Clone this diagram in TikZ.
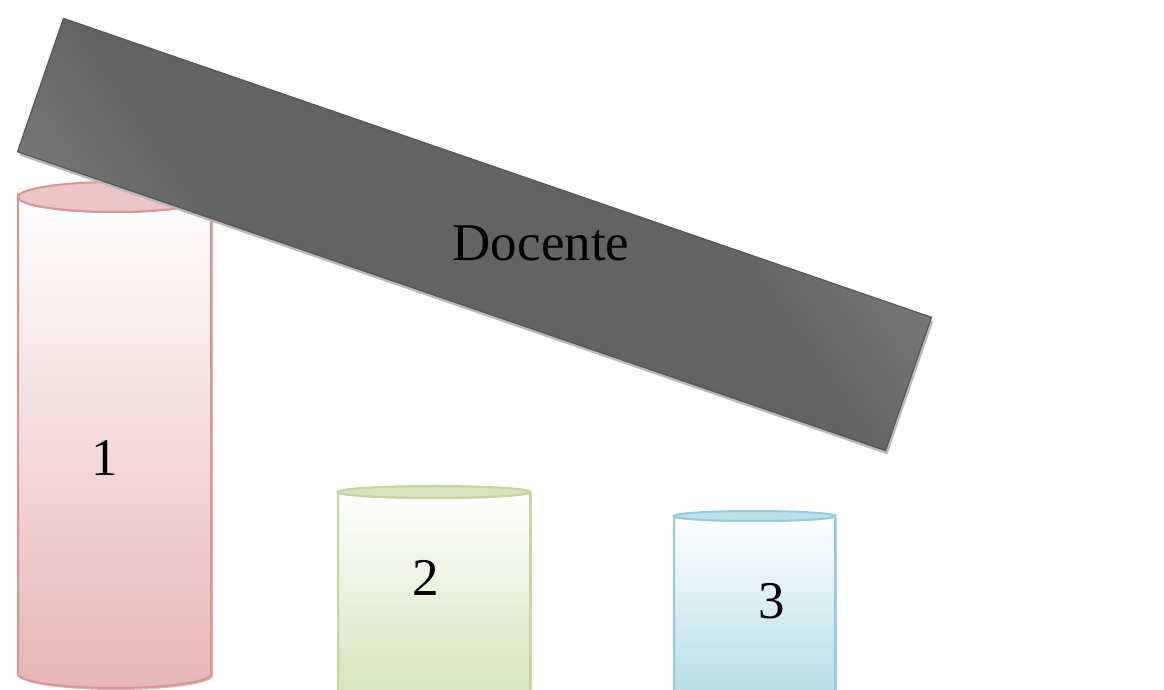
\documentclass[tikz,border=0pt]{standalone}
\usepackage{fontspec}
\setmainfont{Liberation Serif}
\usetikzlibrary{shadings}
\definecolor{pinkS}{HTML}{D99694}
\definecolor{pinkB}{HTML}{E6B7B6}
\definecolor{pinkT}{HTML}{ECC5C5}
\definecolor{greenS}{HTML}{C3D69B}
\definecolor{greenB}{HTML}{D7E4BD}
\definecolor{greenT}{HTML}{D8E4BF}
\definecolor{blueS}{HTML}{93CDDD}
\definecolor{blueB}{HTML}{B7DEE8}
\definecolor{blueT}{HTML}{BEE0EA}
\definecolor{barD}{HTML}{636363}
\definecolor{barL}{HTML}{7C7C7C}
\definecolor{barE}{HTML}{575757}
\pgfdeclarehorizontalshading{barsh}{100bp}{color(0bp)=(barL); color(25bp)=(barL); color(36bp)=(barD); color(64bp)=(barD); color(75bp)=(barL); color(100bp)=(barL)}
\tikzset{
  lbl/.style={font=\fontsize{53}{60}\selectfont, text=black, inner sep=0pt},
  cylline/.style={line width=2pt},
}
\newcommand{\mycyl}[9]{%
 \fill[#7!80!black, opacity=0.5] ({#1-#2+2},{#3-2}) -- ({#1-#2+2},{#5-2}) arc[start angle=180,end angle=360,x radius=#2,y radius=#6] -- ({#1+#2+2},{#3-2}) -- cycle;
 \shade[top color=white, bottom color=#8, draw=#7, cylline]
   ({#1-#2},#3) -- ({#1-#2},#5) arc[start angle=180,end angle=360,x radius=#2,y radius=#6]
   -- ({#1+#2},#3) arc[start angle=0,end angle=-180,x radius=#2,y radius=#4] -- cycle;
 \filldraw[fill=#9, draw=#7, cylline] (#1,#3) ellipse[x radius=#2, y radius=#4];
}
\begin{document}
\begin{tikzpicture}[x=1pt,y=1pt]
\useasboundingbox (0,0) rectangle (1164,690);
\begin{scope}
\clip (0,0) rectangle (1164,690);
\mycyl{114.5}{96.5}{493}{15}{16}{14}{pinkS}{pinkB}{pinkT}
\mycyl{434}{96}{198}{6}{-1}{5}{greenS}{greenB}{greenT}
\mycyl{754.5}{80.5}{174}{5}{-1}{5}{blueS}{blueB}{blueT}
\end{scope}
\node[lbl] (n1) at (105,232) {1};
\node[lbl] (n2) at (426,112) {2};
\node[lbl] (n3) at (772,89) {3};
% bar
\begin{scope}[shift={(474.5,455.5)}, rotate=-19]
  \fill[black!27] (-456,-73.5) rectangle (462,67.5);
  \shade[shading=barsh, shading angle=35, draw=barE, line width=1.2pt] (-459,-70.5) rectangle (459,70.5);
  \coordinate (barc) at (0,0);
\end{scope}
\node[lbl] (doc) at (541,447) {Docente};
\end{tikzpicture}
\end{document}
